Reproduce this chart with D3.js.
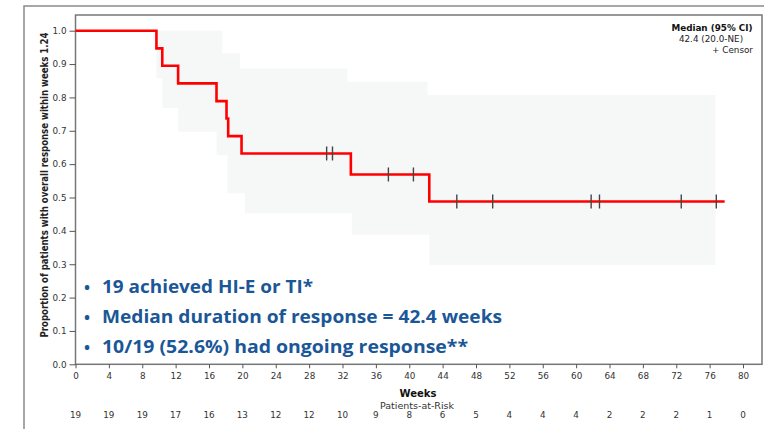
<!DOCTYPE html>
<html>
<head>
  <meta charset="utf-8">
  <style>
    body { margin: 0; background: #ffffff; }
    .tick-label { font-family: 'DejaVu Sans', sans-serif; font-size: 8.8px; fill: #333333; }
    .axis path, .axis line { stroke: #555555; }
    .bullet { font-family: 'Open Sans', Lato, sans-serif; font-weight: bold; fill: #1b5797; }
  </style>
</head>
<body>
  <div id="chart"></div>
  <script src="https://cdn.jsdelivr.net/npm/d3@7"></script>
  <script>
    // Kaplan-Meier step curve (weeks, proportion)
    var kmTimes = [0, 9.7, 10.4, 12.3, 16.9, 18.1, 18.3, 19.9, 33.0, 42.4];
    var kmSurv = [1.0, 0.947, 0.895, 0.842, 0.789, 0.737, 0.684, 0.632, 0.569, 0.488];
    var kmEnd = 77.8;

    // censored observations
    var censorTimes = [30.1, 30.8, 37.5, 40.5, 45.7, 50.0, 61.8, 62.8, 72.6, 76.8];

    // 95% CI band (step)
    var ciTimes = [9.7, 10.4, 12.3, 16.9, 17.6, 18.2, 19.7, 20.3, 32.6, 33.1, 42.2, 42.4];
    var ciLower = [0.858, 0.768, 0.697, 0.627, 0.627, 0.513, 0.513, 0.453, 0.453, 0.388, 0.388, 0.298];
    var ciUpper = [1.0, 1.0, 1.0, 1.0, 0.932, 0.932, 0.887, 0.887, 0.847, 0.847, 0.807, 0.807];
    var ciEnd = 76.7;

    var xTicks = d3.range(0, 81, 4);
    var yTicks = d3.range(0, 11).map(function (d) { return d / 10; });
    var atRisk = [19, 19, 19, 17, 16, 13, 12, 12, 10, 9, 8, 6, 5, 4, 4, 4, 2, 2, 2, 1, 0];

    var bullets = [
      '19 achieved HI-E or TI*',
      'Median duration of response = 42.4 weeks',
      '10/19 (52.6%) had ongoing response**'
    ];
    var bulletWidths = [211, 400, 366];

    var width = 772;
    var height = 429;
    var svg = d3.select('#chart').append('svg')
      .attr('width', width)
      .attr('height', height);

    var x = d3.scaleLinear().domain([0, 80]).range([75.5, 743]);
    var y = d3.scaleLinear().domain([0, 1]).range([364.3, 30.7]);

    // outer frame
    svg.append('path')
      .attr('d', 'M24,429V6H764')
      .style('fill', 'none')
      .style('stroke', '#8a8a8a')
      .style('stroke-width', 1.5);

    // CI band
    var ciData = ciTimes.map(function (t, i) { return { t: t, lo: ciLower[i], hi: ciUpper[i] }; });
    ciData.push({ t: ciEnd, lo: ciLower[ciLower.length - 1], hi: ciUpper[ciUpper.length - 1] });
    svg.append('path')
      .datum(ciData)
      .attr('d', d3.area()
        .curve(d3.curveStepAfter)
        .x(function (d) { return x(d.t); })
        .y0(function (d) { return y(d.lo); })
        .y1(function (d) { return y(d.hi); }))
      .style('fill', '#f6f7f7');

    // plot frame
    svg.append('rect')
      .attr('x', 75.5)
      .attr('y', 15)
      .attr('width', 762 - 75.5)
      .attr('height', 364.3 - 15)
      .style('fill', 'none')
      .style('stroke', '#777777')
      .style('stroke-width', 1.5);

    // axes
    var gx = svg.append('g')
      .attr('class', 'axis')
      .attr('transform', 'translate(0,364.3)')
      .call(d3.axisBottom(x).tickValues(xTicks).tickSize(4).tickPadding(4));
    gx.select('.domain').remove();
    gx.selectAll('text').attr('class', 'tick-label').attr('font-family', null).attr('font-size', null);

    var gy = svg.append('g')
      .attr('class', 'axis')
      .attr('transform', 'translate(75.5,0)')
      .call(d3.axisLeft(y).tickValues(yTicks).tickSize(6).tickFormat(d3.format('.1f')).tickPadding(3));
    gy.select('.domain').remove();
    gy.selectAll('text').attr('class', 'tick-label').attr('font-family', null).attr('font-size', null);

    // KM line
    var kmData = kmTimes.map(function (t, i) { return { t: t, s: kmSurv[i] }; });
    kmData.push({ t: kmEnd, s: kmSurv[kmSurv.length - 1] });
    svg.append('path')
      .datum(kmData)
      .attr('d', d3.line()
        .curve(d3.curveStepAfter)
        .x(function (d) { return x(d.t); })
        .y(function (d) { return y(d.s); }))
      .style('fill', 'none')
      .style('stroke', '#ff0000')
      .style('stroke-width', 2.6);

    // censor marks
    function survAt(t) {
      var s = 1;
      kmTimes.forEach(function (kt, i) { if (kt <= t) s = kmSurv[i]; });
      return s;
    }
    svg.selectAll('.censor')
      .data(censorTimes)
      .enter()
      .append('line')
      .attr('class', 'censor')
      .attr('x1', function (d) { return x(d); })
      .attr('x2', function (d) { return x(d); })
      .attr('y1', function (d) { return y(survAt(d)) - 7; })
      .attr('y2', function (d) { return y(survAt(d)) + 7; })
      .style('stroke', '#444444')
      .style('stroke-width', 1.4);

    // legend
    var legend = svg.append('g').style('font-family', "'DejaVu Sans', sans-serif").style('font-size', '8.8px');
    legend.append('text').attr('x', 712).attr('y', 31).attr('text-anchor', 'middle')
      .style('font-weight', 'bold').style('fill', '#111').text('Median (95% CI)');
    legend.append('text').attr('x', 711).attr('y', 42).attr('text-anchor', 'middle')
      .style('fill', '#222').text('42.4 (20.0-NE)');
    legend.append('text').attr('x', 753).attr('y', 53).attr('text-anchor', 'end')
      .style('fill', '#222').text('+  Censor');

    // y axis label
    svg.append('text')
      .attr('transform', 'translate(48,185) rotate(-90)')
      .attr('text-anchor', 'middle')
      .attr('textLength', 305)
      .attr('lengthAdjust', 'spacingAndGlyphs')
      .style('font-family', "'DejaVu Sans Condensed', 'DejaVu Sans', sans-serif")
      .style('font-weight', 'bold')
      .style('font-size', '10.5px')
      .style('fill', '#222')
      .text('Proportion of patients with overall response within weeks 1.24');

    // x axis titles
    svg.append('text')
      .attr('x', 418).attr('y', 397)
      .attr('text-anchor', 'middle')
      .style('font-family', "'DejaVu Sans', sans-serif")
      .style('font-weight', 'bold')
      .style('font-size', '10px')
      .style('fill', '#111')
      .text('Weeks');
    svg.append('text')
      .attr('x', 417).attr('y', 409)
      .attr('text-anchor', 'middle')
      .style('font-family', "'DejaVu Sans', sans-serif")
      .style('font-size', '9.5px')
      .style('fill', '#333')
      .text('Patients-at-Risk');

    // patients at risk
    svg.selectAll('.risk')
      .data(atRisk)
      .enter()
      .append('text')
      .attr('class', 'tick-label')
      .attr('x', function (d, i) { return x(xTicks[i]); })
      .attr('y', 418)
      .attr('text-anchor', 'middle')
      .text(function (d) { return d; });

    // bullet text
    var bg = svg.append('g');
    bullets.forEach(function (b, i) {
      var yy = 293 + i * 30;
      bg.append('text').attr('class', 'bullet').attr('x', 84).attr('y', yy)
        .style('font-size', '16px').text('\u2022');
      bg.append('text').attr('class', 'bullet').attr('x', 102).attr('y', yy)
        .attr('textLength', bulletWidths[i])
        .attr('lengthAdjust', 'spacingAndGlyphs')
        .style('font-size', '17px').text(b);
    });
  </script>
</body>
</html>
